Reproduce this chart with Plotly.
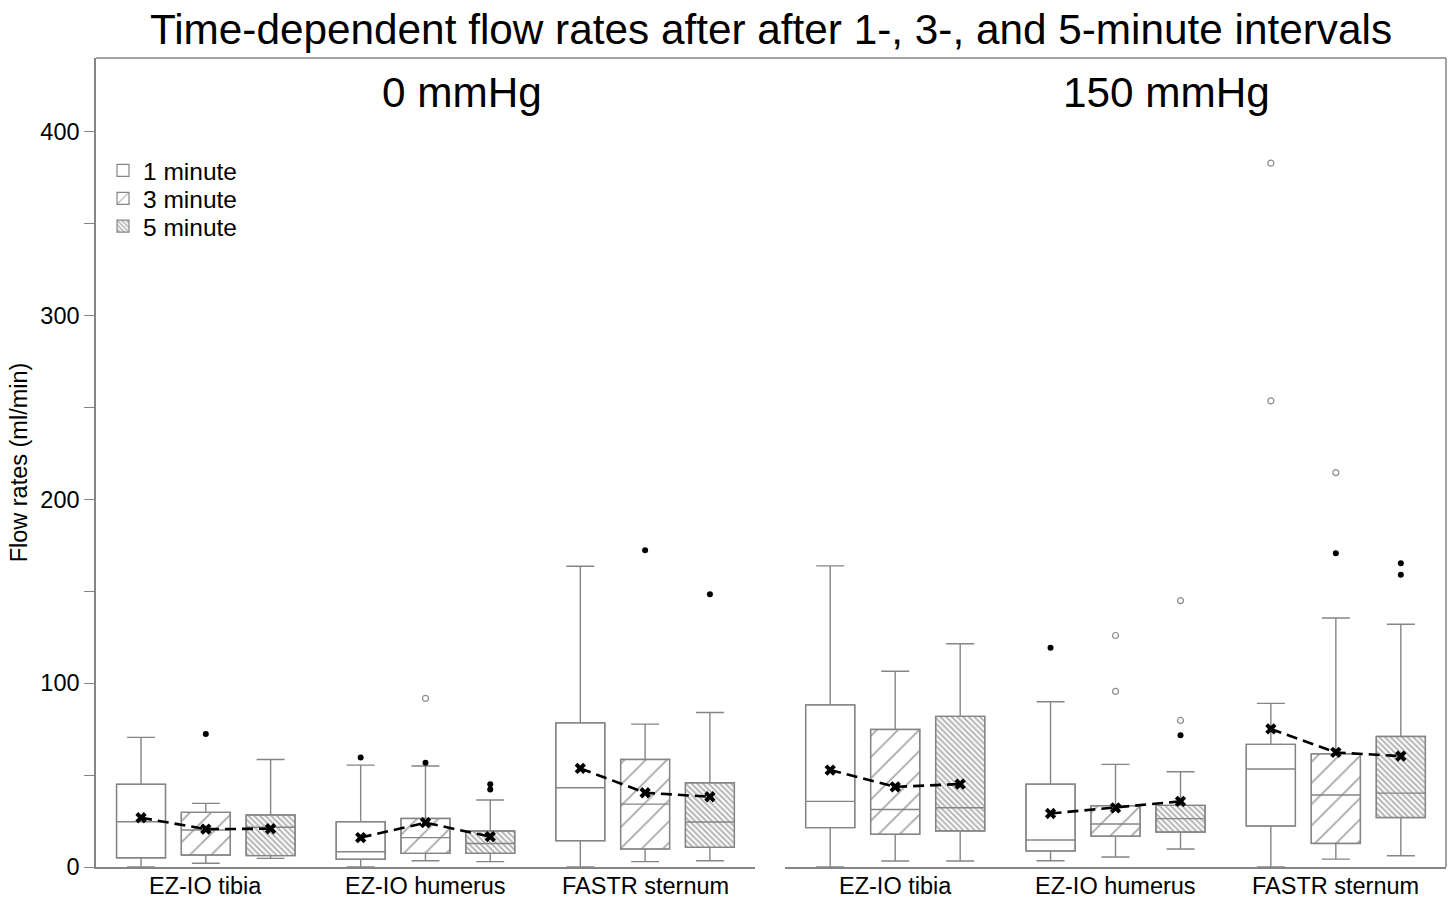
import plotly.graph_objects as go

# ---------------- data ----------------
groups = ["EZ-IO tibia", "EZ-IO humerus", "FASTR sternum"]
times = ["1 minute", "3 minute", "5 minute"]
pressures = ["0 mmHg", "150 mmHg"]

# values are [group][time]
q1_0 = [[5.0, 6.5, 6.2], [4.2, 7.4, 7.4], [14.3, 9.8, 10.7]]
med_0 = [[24.6, 20.1, 21.6], [8.3, 16.0, 12.8], [43.1, 34.2, 24.5]]
q3_0 = [[45.0, 29.7, 28.3], [24.6, 26.4, 19.6], [78.4, 58.5, 45.8]]
lo_0 = [[0.0, 2.0, 4.7], [0.0, 3.4, 2.9], [0.0, 2.9, 3.4]]
hi_0 = [[70.5, 34.6, 58.5], [55.4, 54.9, 36.4], [163.6, 77.7, 84.0]]
mean_0 = [[26.8, 20.6, 20.8], [16.0, 24.1, 16.5], [53.6, 40.4, 38.2]]
mild_0 = [[[], [72.3], []], [[59.5], [56.7], [45.0, 42.2]], [[], [172.3], [148.4]]]
extreme_0 = [[[], [], []], [[], [91.7], []], [[], [], []]]

q1_150 = [[21.4, 17.8, 19.6], [8.7, 16.8, 19.0], [22.3, 12.8, 26.9]]
med_150 = [[35.7, 31.3, 32.2], [14.7, 23.4, 26.3], [53.3, 39.2, 40.2]]
q3_150 = [[88.2, 74.8, 81.9], [45.1, 33.3, 33.5], [66.7, 61.5, 71.0]]
lo_150 = [[0.0, 3.3, 3.3], [3.4, 5.4, 9.8], [0.0, 4.3, 6.1]]
hi_150 = [[163.8, 106.5, 121.4], [89.9, 55.8, 51.8], [89.0, 135.4, 132.0]]
mean_150 = [[52.7, 43.6, 45.1], [29.1, 32.2, 35.7], [75.1, 62.3, 60.3]]
mild_150 = [[[], [], []], [[119.2], [], [71.7]], [[], [170.6], [165.2, 159.0]]]
extreme_150 = [[[], [], []], [[], [125.9, 95.5], [144.9, 79.7]], [[382.8, 253.5], [214.5], []]]

y_ticks = [0, 100, 200, 300, 400]

# ---------------- styling ----------------
FONT = "Liberation Sans, Arial, Helvetica, sans-serif"
GRAY = "#858585"
offsets = [-0.295, 0.0, 0.295]
box_w = 0.223
patterns = [
    dict(shape="", bgcolor="white"),
    dict(shape="/", size=15, solidity=0.12, fgcolor="#505050", bgcolor="white"),
    dict(shape="\\", size=4, solidity=0.5, fgcolor="#6a6a6a", bgcolor="white"),
]
legend_ids = ["legend", "legend2", "legend3"]
legend_y = [0.861, 0.8265, 0.792]

panels = [
    ("", q1_0, med_0, q3_0, lo_0, hi_0, mean_0, mild_0, extreme_0),
    ("2", q1_150, med_150, q3_150, lo_150, hi_150, mean_150, mild_150, extreme_150),
]

fig = go.Figure()

for pi, (sfx, q1, med, q3, lo, hi, mn, mild, ext) in enumerate(panels):
    xa, ya = "x" + sfx, "y" + sfx
    for t in range(3):
        xs = [g + offsets[t] for g in range(3)]
        fig.add_trace(go.Bar(
            x=xs, base=[q1[g][t] for g in range(3)],
            y=[q3[g][t] - q1[g][t] for g in range(3)],
            width=box_w, name=times[t], legendgroup=times[t], legend=legend_ids[t],
            showlegend=(pi == 0),
            marker=dict(color="white", pattern=patterns[t],
                        line=dict(color=GRAY, width=1.2)),
            xaxis=xa, yaxis=ya, hoverinfo="skip",
        ))
    for t in range(3):
        xs = [g + offsets[t] for g in range(3)]
        fig.add_trace(go.Box(
            x=xs, q1=[q1[g][t] for g in range(3)],
            median=[med[g][t] for g in range(3)],
            q3=[q3[g][t] for g in range(3)],
            lowerfence=[lo[g][t] for g in range(3)],
            upperfence=[hi[g][t] for g in range(3)],
            width=box_w, whiskerwidth=0.57, orientation="v",
            fillcolor="rgba(0,0,0,0)", line=dict(color=GRAY, width=1.4),
            boxpoints=False, showlegend=False, xaxis=xa, yaxis=ya,
        ))
    # outliers
    mx, my, ex, ey = [], [], [], []
    for g in range(3):
        for t in range(3):
            for v in mild[g][t]:
                mx.append(g + offsets[t]); my.append(v)
            for v in ext[g][t]:
                ex.append(g + offsets[t]); ey.append(v)
    fig.add_trace(go.Scatter(x=mx, y=my, mode="markers", showlegend=False,
                             marker=dict(symbol="circle", size=6, color="black"),
                             xaxis=xa, yaxis=ya))
    fig.add_trace(go.Scatter(x=ex, y=ey, mode="markers", showlegend=False,
                             marker=dict(symbol="circle-open", size=6, color="#8a8a8a",
                                         line=dict(width=1.2)),
                             xaxis=xa, yaxis=ya))
    # mean lines
    for g in range(3):
        fig.add_trace(go.Scatter(
            x=[g + offsets[t] for t in range(3)], y=mn[g],
            mode="lines+markers", showlegend=False,
            line=dict(color="black", width=2.6, dash="11px,6px"),
            marker=dict(symbol="x", size=10, color="black"),
            xaxis=xa, yaxis=ya,
        ))

xcommon = dict(range=[-0.5, 2.5], tickmode="array", tickvals=[0, 1, 2],
               showticklabels=False,
               showline=True, linecolor=GRAY, linewidth=1.5, ticks="", showgrid=False,
               zeroline=False, automargin=False)

legend_common = dict(x=0.0052, xanchor="left", yanchor="middle",
                     bgcolor="rgba(0,0,0,0)",
                     font=dict(size=24.5, color="black", family=FONT))

# group labels under each panel's axis
group_labels = []
for xr in ["x", "x2"]:
    for g in range(3):
        group_labels.append(dict(
            text=groups[g], xref=xr, yref="paper", x=g, y=-0.0235,
            xanchor="center", yanchor="middle", showarrow=False,
            font=dict(size=23.5, color="black", family=FONT)))

fig.update_layout(
    width=1450, height=899,
    margin=dict(l=96, r=4, t=58, b=32),
    paper_bgcolor="white", plot_bgcolor="white",
    font=dict(family=FONT, color="black"),
    barmode="overlay",
    title=dict(text="Time-dependent flow rates after after 1-, 3-, and 5-minute intervals",
               x=0.5, xref="paper", xanchor="center",
               y=1 - 29 / 899, yref="container", yanchor="middle",
               font=dict(size=42.3, color="black", family=FONT)),
    xaxis=dict(domain=[0, 0.4881], anchor="y", **xcommon),
    xaxis2=dict(domain=[0.5104, 1], anchor="y2", **xcommon),
    yaxis=dict(range=[0, 440], tickmode="array", tickvals=y_ticks, ticks="outside",
               ticklen=10, tickcolor=GRAY, tickwidth=1.3, automargin=False,
               minor=dict(tickvals=[50, 150, 250, 350], ticks="outside", ticklen=10,
                          tickcolor=GRAY, tickwidth=1.3),
               showline=True, linecolor=GRAY, linewidth=1.5, showgrid=False, zeroline=False,
               tickfont=dict(size=23.5, color="black", family=FONT),
               title=dict(text="Flow rates (ml/min)", standoff=6,
                          font=dict(size=23.5, color="black", family=FONT))),
    yaxis2=dict(matches="y", anchor="x2", showticklabels=False, ticks="", showline=False,
                showgrid=False, zeroline=False, automargin=False),
    legend=dict(y=legend_y[0], **legend_common),
    legend2=dict(y=legend_y[1], **legend_common),
    legend3=dict(y=legend_y[2], **legend_common),
    showlegend=True,
    shapes=[
        dict(type="line", xref="paper", yref="paper", x0=0, x1=1, y0=1, y1=1,
             line=dict(color=GRAY, width=1.5)),
        dict(type="line", xref="paper", yref="paper", x0=1, x1=1, y0=0, y1=1,
             line=dict(color=GRAY, width=1.5)),
    ],
    annotations=[
        dict(text=pressures[0], xref="paper", yref="paper", x=0.271, y=0.957,
             xanchor="center", yanchor="middle", showarrow=False,
             font=dict(size=42.3, color="black", family=FONT)),
        dict(text=pressures[1], xref="paper", yref="paper", x=0.793, y=0.957,
             xanchor="center", yanchor="middle", showarrow=False,
             font=dict(size=42.3, color="black", family=FONT)),
    ] + group_labels,
)

fig.write_html("out.html")
